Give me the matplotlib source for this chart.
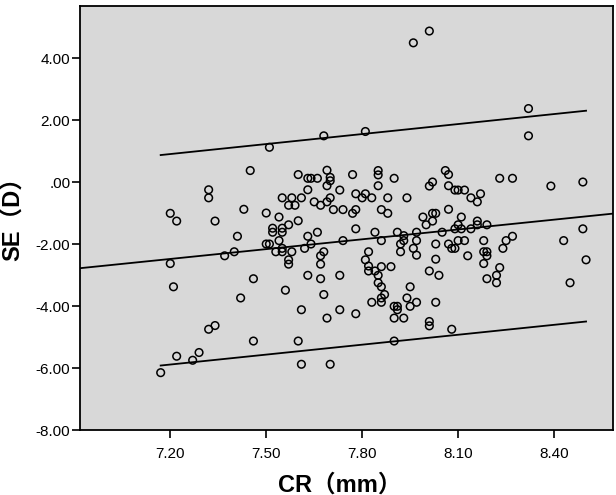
import matplotlib
matplotlib.use("Agg")
import matplotlib.pyplot as plt
import numpy as np

# ---- data ----
cr = [7.96, 8.01, 8.32, 8.32, 7.81, 7.68, 7.51,
      7.45, 7.60, 7.63, 7.64, 7.66, 7.69, 7.70, 7.70, 7.69, 7.77, 7.85, 7.85, 7.85,
      7.90, 8.06, 8.07, 8.07, 8.02, 8.01, 8.23, 8.27, 8.39, 8.49,
      7.32, 7.32, 7.55, 7.58, 7.61, 7.63, 7.57, 7.59, 7.65, 7.67, 7.69, 7.70, 7.73,
      7.78, 7.80, 7.81, 7.83, 7.88, 7.94, 8.09, 8.10, 8.12, 8.14, 8.16, 8.17,
      7.20, 7.22, 7.34, 7.43, 7.50, 7.54, 7.57, 7.60, 7.71, 7.74, 7.77, 7.78, 7.86,
      7.88, 7.99, 8.00, 8.02, 8.03, 8.02, 8.07, 8.11, 8.10, 8.09, 8.11, 8.14, 8.16,
      8.16, 8.19,
      7.41, 7.52, 7.52, 7.55, 7.55, 7.54, 7.50, 7.51, 7.53, 7.55, 7.58, 7.55, 7.63,
      7.64, 7.62, 7.66, 7.68, 7.74, 7.78, 7.84, 7.86, 7.91, 7.92, 7.93, 7.93, 7.97,
      7.97, 7.96, 7.97, 7.92, 8.03, 8.05, 8.07, 8.08, 8.09, 8.10, 8.12, 8.13, 8.18,
      8.18, 8.19, 8.19, 8.24, 8.25, 8.27, 8.43, 8.49, 7.40, 7.37, 7.20, 8.18, 8.50,
      7.82,
      7.57, 7.57, 7.67, 7.67, 7.81, 7.82, 7.82, 7.84, 7.85, 7.86, 7.89, 7.85, 7.86,
      8.01, 8.03, 8.04, 8.23, 8.22, 8.22, 8.19, 7.63, 7.67, 7.73, 7.46, 7.21, 8.45,
      7.56, 7.68, 7.95, 7.42, 7.87, 7.86, 7.83, 7.86, 7.94, 7.97, 8.03, 7.95, 7.90,
      7.91, 7.91, 7.61, 7.73, 7.78, 7.69, 7.90, 7.93,
      8.01, 8.01, 8.08, 7.32, 7.34, 7.46, 7.60, 7.90, 7.29, 7.22, 7.27, 7.61, 7.70,
      7.17]
se = [4.49, 4.87, 2.37, 1.49, 1.63, 1.49, 1.12,
      0.37, 0.24, 0.12, 0.12, 0.12, 0.38, 0.15, 0.04, -0.12, 0.24, 0.37, 0.23, -0.12,
      0.12, 0.37, 0.24, -0.12, 0.00, -0.13, 0.12, 0.12, -0.13, 0.00,
      -0.25, -0.51, -0.51, -0.51, -0.51, -0.25, -0.75, -0.75, -0.64, -0.75, -0.64,
      -0.51, -0.26, -0.38, -0.51, -0.38, -0.51, -0.51, -0.51, -0.26, -0.26, -0.26,
      -0.51, -0.64, -0.38,
      -1.01, -1.26, -1.26, -0.88, -1.00, -1.13, -1.38, -1.25, -0.89, -0.89, -1.01,
      -0.89, -0.89, -1.01, -1.13, -1.38, -1.01, -1.01, -1.26, -0.88, -1.13, -1.38,
      -1.51, -1.51, -1.51, -1.26, -1.38, -1.38,
      -1.75, -1.49, -1.62, -1.49, -1.62, -1.89, -2.00, -2.00, -2.25, -2.25, -2.25,
      -2.14, -1.75, -2.00, -2.14, -1.62, -2.25, -1.89, -1.51, -1.62, -1.89, -1.62,
      -2.00, -1.73, -1.89, -1.62, -1.89, -2.14, -2.36, -2.25, -2.00, -1.62, -2.00,
      -2.14, -2.14, -1.89, -1.89, -2.38, -1.89, -2.25, -2.25, -2.38, -2.14, -1.89,
      -1.75, -1.89, -1.51, -2.25, -2.38, -2.63, -2.63, -2.51, -2.25,
      -2.51, -2.65, -2.65, -2.38, -2.51, -2.71, -2.87, -2.87, -3.01, -2.73, -2.73,
      -3.25, -3.38, -2.87, -2.49, -3.01, -2.76, -3.01, -3.25, -3.12, -3.01, -3.12,
      -3.01, -3.12, -3.38, -3.25,
      -3.49, -3.63, -3.38, -3.74, -3.63, -3.74, -3.88, -3.88, -3.74, -3.88, -3.88,
      -4.01, -4.01, -4.01, -4.12, -4.12, -4.12, -4.25, -4.39, -4.39, -4.39,
      -4.50, -4.64, -4.75, -4.75, -4.63, -5.13, -5.13, -5.13, -5.50, -5.62, -5.75,
      -5.88, -5.88, -6.15]

# fitted regression line and prediction-interval end values
fit_intercept = -10.088
fit_slope = 1.0564
band_x = [7.17, 8.50]
upper_y = [0.87, 2.30]
lower_y = [-5.92, -4.50]

x_ticks = [7.20, 7.50, 7.80, 8.10, 8.40]
x_ticklabels = ["7.20", "7.50", "7.80", "8.10", "8.40"]
y_ticks = [-8, -6, -4, -2, 0, 2, 4]
y_ticklabels = ["-8.00", "-6.00", "-4.00", "-2.00", ".00", "2.00", "4.00"]
x_label = "CR（mm）"
y_label = "SE（D）"

# ---- figure ----
fam = ["Liberation Sans", "Noto Sans CJK SC", "DejaVu Sans"]
plt.rcParams["font.family"] = fam

fig = plt.figure(figsize=(6.16, 4.95), dpi=100)
ax = fig.add_axes([0.130, 0.1313, 0.865, 0.857])
ax.set_facecolor("#d8d8d8")

xlim = (6.918, 8.584)
ylim = (-8.0, 5.685)
ax.set_xlim(*xlim)
ax.set_ylim(*ylim)

lx = np.array(xlim)
ax.plot(lx, fit_intercept + fit_slope * lx, color="black", lw=1.3, zorder=2)
ax.plot(band_x, upper_y, color="black", lw=1.3, zorder=2)
ax.plot(band_x, lower_y, color="black", lw=1.3, zorder=2)

ax.scatter(cr, se, s=30, facecolors="none", edgecolors="black",
           linewidths=1.1, zorder=3)

ax.set_xticks(x_ticks)
ax.set_xticklabels(x_ticklabels)
ax.set_yticks(y_ticks)
ax.set_yticklabels(y_ticklabels)
ax.tick_params(axis="both", direction="out", length=6, width=1.2,
               labelsize=11, colors="black")
ax.tick_params(axis="x", pad=6)
ax.tick_params(axis="y", pad=1)
for s in ax.spines.values():
    s.set_linewidth(1.3)
    s.set_color("black")

fig.text(0.552, 0.0202, x_label, fontsize=17, fontweight="bold",
         ha="center", va="center")
fig.text(0.0195, 0.5687, y_label, fontsize=17, fontweight="bold",
         ha="center", va="center", rotation=90)

fig.savefig("out.png", dpi=100, facecolor="white")
